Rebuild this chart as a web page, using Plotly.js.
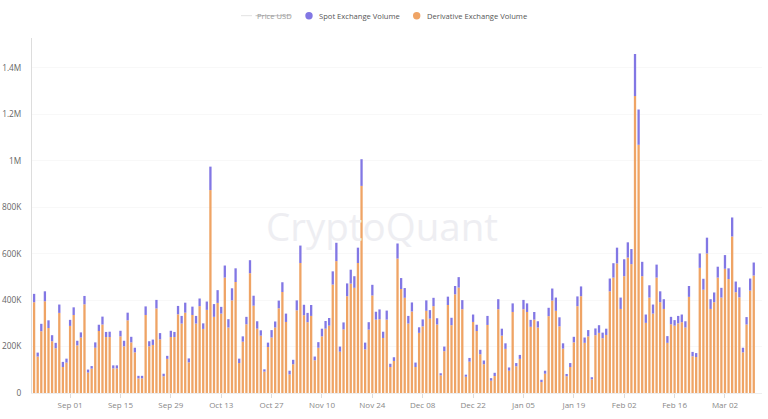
<!DOCTYPE html>
<html><head><meta charset="utf-8">
<script src="https://cdn.plot.ly/plotly-3.0.1.min.js"></script>
<style>html,body{margin:0;padding:0;background:#fff}#c{width:768px;height:419px}
.bars path,.bars .point path{shape-rendering:geometricPrecision !important}</style>
</head><body><div id="c"></div>
<script>
const firstDay = "2024-08-22";
const derivativeK = [391,157,266,395,280,223,193,345,112,131,289,336,205,239,382,88,105,195,267,295,241,241,106,106,244,201,313,218,175,63,63,336,201,207,364,231,72,147,241,241,339,299,346,132,336,299,374,276,358,874,
328,388,342,497,282,399,478,129,221,296,516,376,277,247,92,198,239,282,365,435,306,80,124,356,560,335,305,332,141,195,244,277,290,467,568,178,274,417,471,453,560,892,188,273,420,316,318,237,316,
112,138,579,448,410,299,351,112,259,287,354,320,374,295,76,180,379,292,425,454,361,70,135,306,267,167,124,293,53,73,361,247,190,96,349,115,147,361,349,285,316,282,47,83,331,398,354,287,191,72,
112,218,374,417,216,244,59,249,259,236,250,438,497,558,362,503,583,555,1279,1069,503,302,411,342,497,391,362,216,296,290,300,305,282,414,158,155,539,445,601,362,391,497,411,535,491,674,434,412,175,295,441,506];
const spotK = [36,17,32,43,33,26,23,36,22,17,26,33,20,22,36,13,11,23,27,34,22,23,13,13,24,24,33,24,20,11,11,37,22,23,37,27,11,13,27,22,36,33,43,17,36,33,33,24,36,101,
55,55,29,52,36,52,59,19,23,32,56,43,32,23,10,19,32,26,33,42,36,16,19,43,75,45,40,47,16,24,33,33,33,57,79,22,30,55,60,50,66,115,29,32,46,34,42,27,39,
14,16,65,47,42,33,39,19,24,30,45,37,36,27,9,20,36,32,36,45,39,9,16,32,27,19,16,39,11,14,43,30,24,14,37,14,17,40,37,30,33,27,10,13,36,52,57,39,23,10,
17,24,42,42,23,27,9,29,33,24,27,55,62,68,49,73,66,65,181,152,62,36,53,39,56,47,42,29,32,24,32,33,27,47,19,17,62,47,68,42,42,47,42,59,46,82,46,43,20,32,52,56];
const xTickVals = ["2024-09-01","2024-09-15","2024-09-29","2024-10-13","2024-10-27","2024-11-10","2024-11-24","2024-12-08","2024-12-22","2025-01-05","2025-01-19","2025-02-02","2025-02-16","2025-03-02"];
const xTickText = ["Sep 01","Sep 15","Sep 29","Oct 13","Oct 27","Nov 10","Nov 24","Dec 08","Dec 22","Jan 05","Jan 19","Feb 02","Feb 16","Mar 02"];
const yTickVals = [0,200000,400000,600000,800000,1000000,1200000,1400000];
const yTickText = ["0","200K","400K","600K","800K","1M","1.2M","1.4M"];

const days = derivativeK.map((_, i) => new Date(Date.parse(firstDay + "T00:00:00Z") + i * 864e5).toISOString().slice(0, 10));
const FONT = '"Open Sans", sans-serif';
const ORANGE = "#efa465", PURPLE = "#8277e4";
const LEGEND_Y = (419-26.3-15.7)/354.7;

const traces = [
  {type:"bar", name:"Derivative Exchange Volume", x:days, y:derivativeK.map(v=>v*1000), marker:{color:ORANGE}, showlegend:false},
  {type:"bar", name:"Spot Exchange Volume", x:days, y:spotK.map(v=>v*1000), marker:{color:PURPLE}, showlegend:false}
];
function label(text, x, color){
  return {xref:"paper", yref:"paper", xanchor:"left", yanchor:"middle", showarrow:false, text, x:(x-32)/730, y:LEGEND_Y,
          xshift:-1, font:{family:FONT, size:7.6, color}};
}
function dot(px, color){
  return {type:"circle", xref:"paper", yref:"paper", xsizemode:"pixel", ysizemode:"pixel", xanchor:(px-32)/730, yanchor:LEGEND_Y,
          x0:-3.7, x1:3.7, y0:-3.7, y1:3.7, fillcolor:color, line:{width:0}};
}
const layout = {
  width:768, height:419, paper_bgcolor:"#fff", plot_bgcolor:"#fff",
  margin:{l:32, r:6, t:38, b:26.3, pad:0}, barmode:"stack", bargap:0.36, showlegend:false,
  font:{family:FONT, size:8, color:"#777"},
  xaxis:{type:"date", range:["2024-08-21T10:00:00Z","2025-03-12T07:00:00Z"], tickmode:"array", tickvals:xTickVals, ticktext:xTickText,
         showgrid:false, showline:true, linecolor:"#eee", ticks:"outside", ticklen:4, tickcolor:"#ddd", tickfont:{size:8, color:"#888"}, zeroline:false},
  yaxis:{range:[0,1529000], tickmode:"array", tickvals:yTickVals, ticktext:yTickText, showgrid:true, gridcolor:"#f8f8f8", gridwidth:1,
         showline:true, linecolor:"#ddd", ticks:"outside", ticklen:8, tickcolor:"rgba(0,0,0,0)", tickfont:{size:8.3, color:"#666"}, zeroline:false},
  annotations:[
    label("Price USD", 255.5, "#999"),
    label("Spot Exchange Volume", 318, "#555"),
    label("Derivative Exchange Volume", 426, "#555"),
    {xref:"paper", yref:"paper", x:(382-32)/730, y:(419-26.3-226)/354.7, xanchor:"center", yanchor:"middle", showarrow:false,
     text:"CryptoQuant", font:{family:FONT, size:38.5, color:"#eeeef2"}}
  ],
  shapes:[
    dot(309, PURPLE), dot(416.7, ORANGE),
    {type:"line", xref:"paper", yref:"paper", x0:(241-32)/730, x1:(252-32)/730, y0:LEGEND_Y, y1:LEGEND_Y, line:{color:"#e2e2e2", width:1}},
    {type:"line", xref:"paper", yref:"paper", x0:(255.5-32)/730, x1:(290-32)/730, y0:LEGEND_Y, y1:LEGEND_Y, line:{color:"#aaa", width:0.7}}
  ]
};
Plotly.newPlot("c", traces, layout, {displayModeBar:false, staticPlot:true});
</script></body></html>
